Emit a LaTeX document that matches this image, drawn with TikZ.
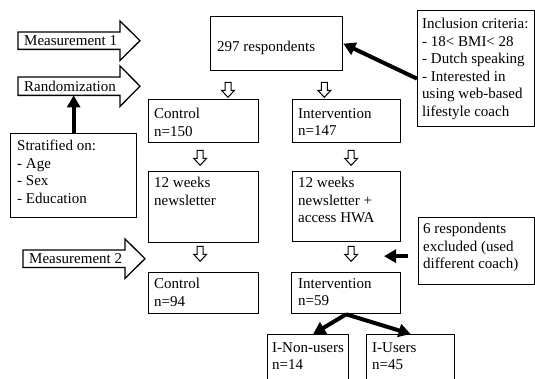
\documentclass[tikz,border=0pt]{standalone}
\usepackage{fontspec}
\setmainfont{Liberation Serif}
\usetikzlibrary{arrows.meta,calc}

\tikzset{pics/downarrow/.style={code={
  \draw[line width=1pt, line join=miter] (-3,0) -- (3,0) -- (3,8) -- (6.5,8) -- (0,15) -- (-6.5,8) -- (-3,8) -- cycle;}}}

\begin{document}
\begin{tikzpicture}[x=1pt, y=-1pt,
    box/.style={draw, line width=1.3pt, anchor=north west, inner sep=0pt},
    txt/.style={anchor=north west, inner sep=0pt, align=left, font=\fontsize{15}{17.5}\selectfont},
    band/.style={anchor=north west, inner xsep=6pt, inner ysep=0pt, font=\fontsize{15}{17.5}\selectfont},
    hollow/.style={draw, line width=1.3pt, line join=miter},
    fatarrow/.style={line width=4pt, -{Triangle[length=12pt, width=13pt]}}]
\clip (0,0) rectangle (535,379);

% boxes
\node[box, minimum width=132, minimum height=54] (resp) at (210,16) {};
\node[txt] (respt) at (217,41) {297 respondents};
\node[box, minimum width=117, minimum height=116] (incl) at (417,10) {};
\node[txt] (inclt) at (422,18) {Inclusion criteria:\\- 18< BMI< 28\\- Dutch speaking\\- Interested in\\using web-based\\lifestyle coach};
\node[box, minimum width=110, minimum height=43] (ctrl1) at (148,99) {};
\node[txt] (ctrl1t) at (154,108) {Control\\n=150};
\node[box, minimum width=108, minimum height=43] (int1) at (292,99) {};
\node[txt] (int1t) at (298,108) {Intervention\\n=147};
\node[box, minimum width=126, minimum height=84] (strat) at (10,133) {};
\node[txt] (stratt) at (17,140) {Stratified on:\\- Age\\- Sex\\- Education};
\node[box, minimum width=110, minimum height=71] (news) at (148,171) {};
\node[txt] (newst) at (154,177) {12 weeks\\newsletter};
\node[box, minimum width=108, minimum height=70] (hwa) at (292,171) {};
\node[txt] (hwat) at (298,177) {12 weeks\\newsletter +\\access HWA};
\node[box, minimum width=110, minimum height=41] (ctrl2) at (148,272) {};
\node[txt] (ctrl2t) at (154,278) {Control\\n=94};
\node[box, minimum width=109, minimum height=41] (int2) at (291,272) {};
\node[txt] (int2t) at (298,278) {Intervention\\n=59};
\node[box, minimum width=116, minimum height=67] (excl) at (418,217) {};
\node[txt] (exclt) at (423,223) {6 respondents\\excluded (used\\different coach)};
\node[box, minimum width=81, minimum height=60] (nonusers) at (267,334) {};
\node[txt] (nonuserst) at (272,342) {I-Non-users\\n=14};
\node[box, minimum width=88, minimum height=60] (users) at (366,334) {};
\node[txt] (userst) at (372,342) {I-Users\\n=45};

% big open arrows on the left
\node[band, minimum height=17] (m1) at (18,32) {Measurement 1};
\node[band, minimum height=18] (rand) at (18,77) {Randomization};
\node[band, minimum height=17] (m2) at (23,250) {Measurement 2};
\foreach \a in {m1,rand,m2}
  \draw[hollow] (\a.north west) -- ($(\a.north west)+(102,0)$) -- ++(0,-11) -- ($(\a.west)+(122,0)$)
    -- ($(\a.south west)+(102,11)$) -- ($(\a.south west)+(102,0)$) -- (\a.south west) -- cycle;

% small open arrows
\pic at ($(resp.south west)+(18,11)$) {downarrow};
\pic at ($(resp.south east)+(-19,11)$) {downarrow};
\pic at ($(ctrl1.south)+(-3.5,7)$) {downarrow};
\pic at ($(int1.south)+(4.5,7)$) {downarrow};
\pic at ($(news.south)+(-3.5,3)$) {downarrow};
\pic at ($(hwa.south)+(4.5,4)$) {downarrow};

% thick arrows
\draw[fatarrow] ($(incl.west)+(0,10)$) -- (resp.east);
\draw[fatarrow] (strat.north) -- (strat.north |- rand.south);
\coordinate (excltip) at ($(excl.west)+(-34,5)$);
\draw[fatarrow] ($(excl.west)+(-10,5)$) -- (excltip);
\draw[fatarrow] (int2.south) -- ($(nonusers.north)+(5,0)$);
\draw[fatarrow] (int2.south) -- (users.north);
\end{tikzpicture}
\end{document}
